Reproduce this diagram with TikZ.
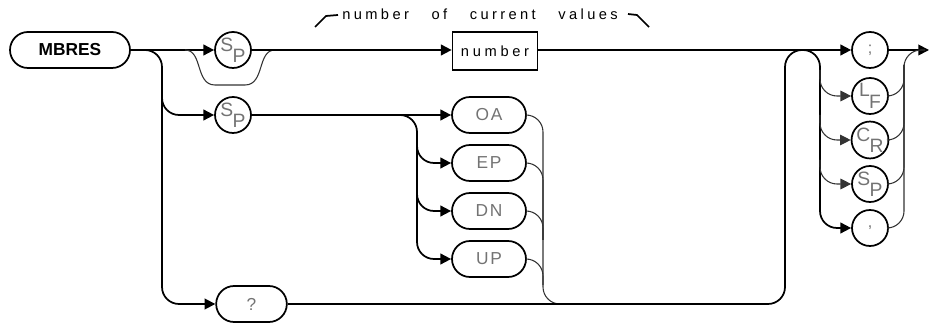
\documentclass[tikz,border=0pt]{standalone}
\usepackage{fontspec}
\setmainfont{Liberation Sans}
\usetikzlibrary{arrows.meta,shapes.misc}
\newcommand{\twochar}[2]{\raisebox{4pt}{#1}\kern-0.5pt\raisebox{-4.5pt}{#2}}

\begin{document}
\begin{tikzpicture}[x=0.75pt,y=-0.75pt,line width=1.3pt,
        >={Triangle[length=8pt,width=8pt]},
        link/.style={rounded corners=12.75pt},
        faint/.style={line width=0.8pt,draw=black!80},
        term/.style={draw,rounded rectangle,minimum height=27pt,inner sep=0pt,
            text=black!55,font=\addfontfeatures{LetterSpace=10}\fontsize{13}{15}\selectfont},
        chr/.style={draw,circle,minimum size=27pt,inner sep=0pt,
            text=black!55,font=\fontsize{14.5}{15}\selectfont}]
        \useasboundingbox (0,0) rectangle (930,323);
        \node[term,minimum width=90pt,text=black,font=\bfseries\fontsize{13}{15}\selectfont] (mbres) at (70,50) {MBRES};
        \node[chr] (spa) at (233,50) {\twochar{S}{P}};
        \node[draw,minimum width=63.75pt,minimum height=28.5pt,inner sep=0pt,
            font=\addfontfeatures{LetterSpace=25}\fontsize{11}{13}\selectfont] (num) at (495,51) {number};
        \node[font=\addfontfeatures{LetterSpace=23}\fontsize{11}{13}\selectfont] (hdr) at (480,14)
            {number\hspace{17pt}of\hspace{17pt}current\hspace{17pt}values};
        \node[chr] (spb) at (233,115) {\twochar{S}{P}};
        \node[term,minimum width=55.5pt] (oa) at (489,115) {OA};
        \node[term,minimum width=55.5pt] (ep) at (489,163) {EP};
        \node[term,minimum width=55.5pt] (dn) at (489,211) {DN};
        \node[term,minimum width=55.5pt] (up) at (489,259) {UP};
        \node[term,minimum width=53pt] (qm) at (251.5,304) {?};
        \node[chr,font=\fontsize{12}{13}\selectfont] (semi) at (870,50) {;};
        \node[chr] (lf) at (870,96) {\twochar{L}{F}};
        \node[chr] (cr) at (870,140) {\twochar{C}{R}};
        \node[chr] (spc) at (870,184) {\twochar{S}{P}};
        \node[chr,font=\fontsize{12}{13}\selectfont] (comma) at (870,228) {,};

        \coordinate (byin) at (185,50);
        \coordinate (byout) at (275,50);
        \coordinate (fork) at (162,50);
        \coordinate (forkb) at (162,90);
        \coordinate (forkc) at (417,115);
        \coordinate (forkd) at (417,140);
        \coordinate (forke) at (417,190);
        \coordinate (mergea) at (543,240);
        \coordinate (mergeb) at (543,285);
        \coordinate (joina) at (543,304);
        \coordinate (joinb) at (600,304);
        \coordinate (loopa) at (785,50);
        \coordinate (loopb) at (820,50);
        \coordinate (tapa) at (820,70);
        \coordinate (tapb) at (820,115);
        \coordinate (tapc) at (820,160);
        \coordinate (outa) at (904,50);
        \coordinate (outb) at (925,50);
        \coordinate (outc) at (904,65);
        \coordinate (fin) at (929,50);

        \draw[->] (mbres.east) -- (spa.west);
        \draw[faint] (byin) .. controls (203,50) and (195,85) .. (215,85) -- (245,85)
            .. controls (265,85) and (257,50) .. (byout);
        \draw[->] (spa.east) -- (num.west |- spa);
        \draw[->] (num.east |- semi) -- (semi.west);
        \draw[->,link] (mbres.east) -- (fork) |- (qm.west);
        \draw[->,link] (forkb) |- (spb.west);
        \draw[->] (spb.east) -- (oa.west);
        \draw[->,link] (spb.east) -- (forkc) |- (up.west);
        \draw[->,link] (forkd) |- (ep.west);
        \draw[->,link] (forke) |- (dn.west);
        \draw[faint,link] (oa.east) -| (joina) -- (joinb);
        \draw[faint,link] (ep.east) -| (mergea);
        \draw[faint,link] (dn.east) -| (mergea);
        \draw[faint,link] (up.east) -| (mergeb);
        \draw[->,link] (qm.east) -| (loopa) -- (loopb) |- (comma.west);
        \draw[->,faint,link] (tapa) |- (lf.west);
        \draw[->,faint,link] (tapb) |- (cr.west);
        \draw[->,faint,link] (tapc) |- (spc.west);
        \draw[->] (semi.east) -- (fin);
        \draw[faint,link] (comma.east) -| (outa) -- (outb);
        \draw[faint,link] (lf.east) -| (outc);
        \draw[faint,link] (cr.east) -| (outc);
        \draw[faint,link] (spc.east) -| (outc);
        \draw (315,27) -- (326,16) -- (338,15);
        \draw (628,14) -- (637,15) -- (649,27);
\end{tikzpicture}
\end{document}
